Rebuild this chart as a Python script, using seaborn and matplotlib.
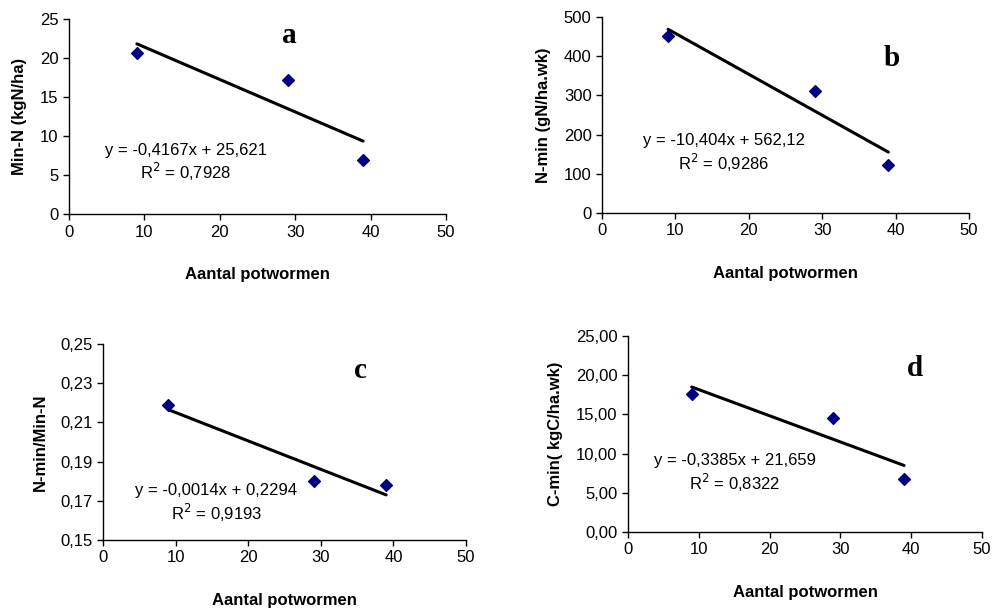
import numpy as np
import pandas as pd
import matplotlib
matplotlib.use("Agg")
import matplotlib.pyplot as plt
from matplotlib.ticker import FuncFormatter
import seaborn as sns

# aantal potwormen per behandeling
potwormen = [9, 29, 39]

min_n = [20.6, 17.2, 6.9]          # a: Min-N (kgN/ha)
n_min = [452, 310, 122]            # b: N-min (gN/ha.wk)
ratio = [0.219, 0.180, 0.178]      # c: N-min/Min-N
c_min = [17.6, 14.5, 6.7]          # d: C-min (kgC/ha.wk)

panels = [
    dict(key="a", y=min_n, ylabel="Min-N (kgN/ha)", ylim=(0, 25), yticks=[0, 5, 10, 15, 20, 25], fmt="{:.0f}",
         eq="y = -0,4167x + 25,621", r2="0,7928", eqpos=(15.5, 8.2, 5.4), letter=(29.2, 22.9),
         rect=[0.0695, 0.649, 0.3797, 0.3197]),
    dict(key="b", y=n_min, ylabel="N-min (gN/ha.wk)", ylim=(0, 500), yticks=[0, 100, 200, 300, 400, 500], fmt="{:.0f}",
         eq="y = -10,404x + 562,12", r2="0,9286", eqpos=(16.6, 184, 128), letter=(39.5, 395),
         rect=[0.6063, 0.6508, 0.3696, 0.3213]),
    dict(key="c", y=ratio, ylabel="N-min/Min-N", ylim=(0.15, 0.25), yticks=[0.15, 0.17, 0.19, 0.21, 0.23, 0.25], fmt="{:.2f}",
         eq="y = -0,0014x + 0,2294", r2="0,9193", eqpos=(15.6, 0.175, 0.1638), letter=(35.5, 0.2367),
         rect=[0.1037, 0.1148, 0.3656, 0.3213]),
    dict(key="d", y=c_min, ylabel="C-min( kgC/ha.wk)", ylim=(0, 25), yticks=[0, 5, 10, 15, 20, 25], fmt="{:.2f}",
         eq="y = -0,3385x + 21,659", r2="0,8322", eqpos=(15.1, 9.06, 6.25), letter=(40.5, 20.9),
         rect=[0.6324, 0.1279, 0.3565, 0.3213]),
]

sns.set_style("ticks")
plt.rcParams['font.family'] = ['Liberation Sans', 'DejaVu Sans']
plt.rcParams['text.color'] = 'black'
plt.rcParams['axes.labelcolor'] = 'black'

fig = plt.figure(figsize=(9.93, 6.10), dpi=100)

for p in panels:
    ax = fig.add_axes(p["rect"])
    df = pd.DataFrame({"x": potwormen, "y": p["y"]})
    sns.regplot(data=df, x="x", y="y", ax=ax, ci=None, marker="D",
                scatter_kws=dict(color="#000080", s=36, alpha=1, edgecolors="#000080", zorder=3),
                line_kws=dict(color="black", lw=2.2, zorder=2))
    ax.set_xlim(0, 50)
    ax.set_xticks([0, 10, 20, 30, 40, 50])
    ax.set_ylim(*p["ylim"])
    ax.set_yticks(p["yticks"])
    fmt = p["fmt"]
    ax.yaxis.set_major_formatter(FuncFormatter(lambda v, pos, f=fmt: f.format(v).replace(".", ",")))
    ax.tick_params(labelsize=12, length=4, width=1, colors="black")
    for s in ["top", "right"]:
        ax.spines[s].set_visible(False)
    for s in ["left", "bottom"]:
        ax.spines[s].set_color("black")
        ax.spines[s].set_linewidth(1)
    ax.set_xlabel("Aantal potwormen", fontsize=12, fontweight="bold", labelpad=20)
    ax.set_ylabel(p["ylabel"], fontsize=12, fontweight="bold", labelpad=9)

    ex, ey1, ey2 = p["eqpos"]
    ax.text(ex, ey1, p["eq"], ha="center", va="center", fontsize=12)
    ax.text(ex, ey2, "R$^2$ = " + p["r2"], ha="center", va="center", fontsize=12)
    lx, ly = p["letter"]
    ax.text(lx, ly, p["key"], ha="center", va="center", fontsize=21, fontweight="bold",
            family="Liberation Serif")

fig.savefig("out.png", dpi=100)
